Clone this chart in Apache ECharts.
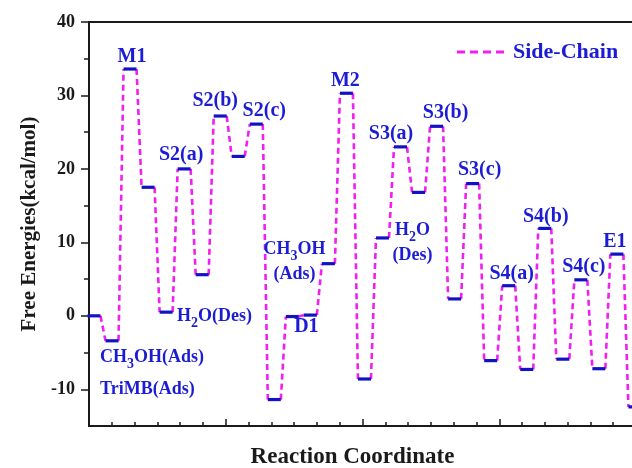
<!DOCTYPE html>
<html>
<head>
<meta charset="utf-8">
<script src="https://cdn.jsdelivr.net/npm/echarts@6/dist/echarts.min.js"></script>
<style>
  html, body { margin: 0; padding: 0; background: #fff; }
  #chart { width: 632px; height: 468px; }
</style>
</head>
<body>
<div id="chart"></div>
<script>
// free energy of every state along the side-chain path (kcal/mol), one per step
const energies = [0, -3.4, 33.6, 17.5, 0.5, 20.0, 5.6, 27.2, 21.7, 26.1, -11.4, -0.1, 0.1, 7.1, 30.3, -8.6,
  10.6, 23.0, 16.8, 25.8, 2.3, 18.0, -6.1, 4.1, -7.3, 11.9, -5.9, 4.9, -7.2, 8.4, -12.4]

// named states and the step each one is written next to
const stateNames = ['CH3OH(Ads)', 'TriMB(Ads)', 'M1', 'H2O(Des)', 'S2(a)', 'S2(b)', 'S2(c)', 'D1',
  'CH3OH\n(Ads)', 'M2', 'H2O\n(Des)', 'S3(a)', 'S3(b)', 'S3(c)', 'S4(a)', 'S4(b)', 'S4(c)', 'E1']
const stateSteps = [1, 1, 2, 4, 5, 7, 9, 12, 13, 14, 16, 17, 19, 21, 23, 25, 27, 29]

const yMajorTicks = [-10, 0, 10, 20, 30, 40]
const yMinorTicks = [-5, 5, 15, 25, 35]

const SERIF = '"Liberation Serif", "Times New Roman", serif'
const BLUE = '#1c1cd4'
const BAR = '#1212c4'
const MAGENTA = '#f020f0'
const AXIS = '#1a1a1a'
const HALF = 6.5

// where each state label sits relative to its level (pixels); small = adsorption/desorption notes
const labelPlace = {
  'CH3OH(Ads)': { align: 'left', offset: [-12, 17], small: true },
  'TriMB(Ads)': { align: 'left', offset: [-12, 49], small: true },
  'M1': { offset: [2, -12.5] },
  'H2O(Des)': { align: 'left', offset: [11, 4], small: true },
  'S2(a)': { offset: [-3, -14.5] },
  'S2(b)': { offset: [-5, -15.5] },
  'S2(c)': { offset: [8, -13] },
  'D1': { offset: [-4, 12] },
  'CH3OH\n(Ads)': { offset: [-34, -2], small: true },
  'M2': { offset: [-1, -12] },
  'H2O\n(Des)': { offset: [30, 5], small: true },
  'S3(a)': { offset: [-9.5, -13] },
  'S3(b)': { offset: [9, -13] },
  'S3(c)': { offset: [7, -14] },
  'S4(a)': { offset: [3, -12] },
  'S4(b)': { offset: [1, -12] },
  'S4(c)': { offset: [3, -13] },
  'E1': { offset: [-2, -12] },
}

const withSub = (t) => t.replace(/([A-Z])(\d)(?=O)/g, '$1{s|$2}')

const levelData = energies.map((e, i) => [i, e])
const labelData = stateNames.map((name, k) => {
  const place = labelPlace[name]
  return {
    value: [stateSteps[k], energies[stateSteps[k]]],
    label: {
      formatter: withSub(name),
      align: place.align || 'center',
      offset: place.offset,
      fontSize: place.small ? 18 : 20,
    },
  }
})

const chart = echarts.init(document.getElementById('chart'), null, { renderer: 'canvas' })

chart.setOption({
  backgroundColor: '#fff',
  animation: false,
  grid: {
    left: 89, top: 22, width: 547, height: 404,
    show: true, borderColor: AXIS, borderWidth: 2,
    outerBoundsMode: 'none',
  },
  legend: {
    left: 452, top: 36,
    itemWidth: 47, itemHeight: 3.5,
    data: [{ name: 'Side-Chain', icon: 'path://M0,0h8v3h-8zM13,0h8v3h-8zM26,0h8v3h-8zM39,0h8v3h-8z' }],
    textStyle: { fontFamily: SERIF, fontWeight: 'bold', fontSize: 22, color: BLUE, padding: [0, 0, 0, 4] },
  },
  xAxis: [
    {
      type: 'value', min: 0, max: 24, interval: 6,
      name: 'Reaction Coordinate', nameLocation: 'middle', nameGap: 20,
      nameTextStyle: { fontFamily: SERIF, fontWeight: 'bold', fontSize: 23, color: AXIS, padding: [0, 20, 0, 0] },
      axisLine: { onZero: false, lineStyle: { color: AXIS, width: 2 } },
      axisTick: { inside: true, length: 7, lineStyle: { color: AXIS, width: 1.5 } },
      minorTick: { show: true, splitNumber: 6, length: 4, lineStyle: { color: AXIS, width: 1.5 } },
      axisLabel: { show: false },
      splitLine: { show: false },
    },
    // step scale that the levels are placed on
    { type: 'value', min: -0.277, max: 30.06, show: false },
  ],
  yAxis: [
    {
      type: 'value', min: -15, max: 40,
      name: 'Free Energies(kcal/mol)', nameLocation: 'middle', nameGap: 49,
      nameTextStyle: { fontFamily: SERIF, fontWeight: 'bold', fontSize: 21, color: AXIS },
      axisLine: { show: true, onZero: false, lineStyle: { color: AXIS, width: 2 } },
      axisTick: { show: true, customValues: yMajorTicks, length: 8, lineStyle: { color: AXIS, width: 1.5 } },
      axisLabel: { customValues: yMajorTicks, margin: 14, fontFamily: SERIF, fontWeight: 'bold', fontSize: 18, color: AXIS },
      splitLine: { show: false },
    },
    {
      type: 'value', min: -15, max: 40, position: 'left',
      axisLine: { show: false, onZero: false },
      axisTick: { show: true, customValues: yMinorTicks, length: 5, lineStyle: { color: AXIS, width: 1.5 } },
      axisLabel: { show: false },
      splitLine: { show: false },
    },
  ],
  series: [
    {
      name: 'Side-Chain',
      type: 'custom',
      xAxisIndex: 1,
      itemStyle: { color: MAGENTA },
      data: levelData,
      z: 2,
      renderItem: (params, api) => {
        const next = params.dataIndexInside + 1
        if (next >= params.dataInsideLength) return null
        const a = api.coord([api.value(0), api.value(1)])
        const b = api.coord([api.value(0, next), api.value(1, next)])
        return {
          type: 'line',
          shape: { x1: a[0] + HALF, y1: a[1], x2: b[0] - HALF, y2: b[1] },
          style: { stroke: MAGENTA, lineWidth: 2.6, lineDash: [6, 4] },
        }
      },
    },
    {
      name: 'levels',
      type: 'custom',
      xAxisIndex: 1,
      data: levelData,
      z: 3,
      renderItem: (params, api) => {
        const p = api.coord([api.value(0), api.value(1)])
        return {
          type: 'rect',
          shape: { x: p[0] - HALF, y: p[1] - 1.6, width: HALF * 2, height: 3.2 },
          style: { fill: BAR },
        }
      },
    },
    {
      name: 'states',
      type: 'scatter',
      xAxisIndex: 1,
      symbolSize: 0,
      silent: true,
      z: 4,
      itemStyle: { opacity: 1 },
      data: labelData,
      label: {
        show: true,
        position: 'inside',
        verticalAlign: 'middle',
        fontFamily: SERIF,
        fontWeight: 'bold',
        lineHeight: 25,
        color: BLUE,
        opacity: 1,
        textBorderWidth: 0,
        rich: {
          s: { fontFamily: SERIF, fontWeight: 'bold', fontSize: 14, color: BLUE, lineHeight: 8, padding: [14, 0, 0, 0], textBorderWidth: 0 },
        },
      },
    },
  ],
})
</script>
</body>
</html>
